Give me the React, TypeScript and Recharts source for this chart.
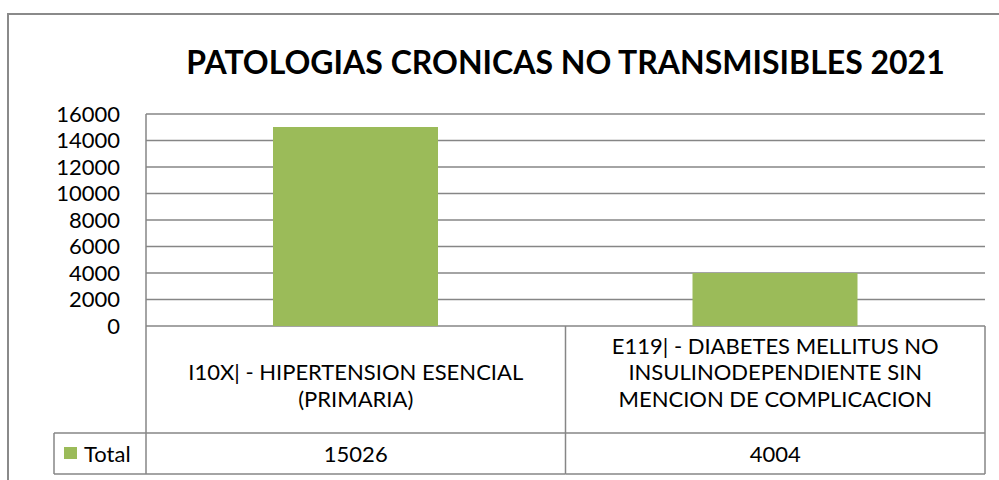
import { BarChart, Bar, XAxis, YAxis, CartesianGrid } from 'recharts';

const categories = [
  'I10X| - HIPERTENSION ESENCIAL (PRIMARIA)',
  'E119| - DIABETES MELLITUS NO INSULINODEPENDIENTE SIN MENCION DE COMPLICACION',
];
const categoryLines = [
  ['I10X| - HIPERTENSION ESENCIAL', '(PRIMARIA)'],
  ['E119| - DIABETES MELLITUS NO', 'INSULINODEPENDIENTE SIN', 'MENCION DE COMPLICACION'],
];
const totals = [15026, 4004];
const yTicks = [0, 2000, 4000, 6000, 8000, 10000, 12000, 14000, 16000];
const seriesName = 'Total';
const title = 'PATOLOGIAS CRONICAS NO TRANSMISIBLES 2021';

const data = categories.map((c, i) => ({ name: c, total: totals[i] }));

const GREEN = '#9bbb59';
const LINE = '#868686';
const FONT = 'Lato, "Open Sans", sans-serif';
const PLOT_LEFT = 146;
const PLOT_RIGHT = 985;
const half = (PLOT_RIGHT - PLOT_LEFT) / categories.length / 2;

function TableTick(props: any) {
  const { x, y, payload } = props;
  const i = payload.index ?? props.index ?? 0;
  const lines = categoryLines[i] || [];
  const left = x - half;
  const right = x + half;
  const lineH = 26.7;
  const lastBase = y + 81;
  return (
    <g>
      {lines.map((t, k) => (
        <text
          key={k}
          x={x}
          y={lastBase - (lines.length - 1 - k) * lineH}
          textAnchor="middle"
          fontSize={22}
          fontFamily={FONT}
          fill="#000"
        >
          {t}
        </text>
      ))}
      <text x={x} y={y + 136} textAnchor="middle" fontSize={22} fontFamily={FONT} fill="#000">
        {totals[i]}
      </text>
      <line x1={left} x2={right} y1={y + 107} y2={y + 107} stroke={LINE} strokeWidth={1.5} />
      <line x1={left} x2={right} y1={y + 148} y2={y + 148} stroke={LINE} strokeWidth={1.5} />
      <line x1={right} x2={right} y1={y} y2={y + 148} stroke={LINE} strokeWidth={1.5} />
      {i === 0 && (
        <g>
          <line x1={left} x2={left} y1={y} y2={y + 148} stroke={LINE} strokeWidth={1.5} />
          <line x1={left - 92} x2={left} y1={y + 107} y2={y + 107} stroke={LINE} strokeWidth={1.5} />
          <line x1={left - 92} x2={left} y1={y + 148} y2={y + 148} stroke={LINE} strokeWidth={1.5} />
          <line x1={left - 92} x2={left - 92} y1={y + 107} y2={y + 148} stroke={LINE} strokeWidth={1.5} />
          <rect x={left - 82} y={y + 121} width={13} height={12} fill={GREEN} />
          <text x={left - 62} y={y + 136} fontSize={22} fontFamily={FONT} fill="#000">
            {seriesName}
          </text>
        </g>
      )}
    </g>
  );
}

export default function App() {
  return (
    <div
      style={{
        position: 'absolute',
        left: 0,
        top: 0,
        width: 999,
        height: 480,
        overflow: 'hidden',
        background: '#fff',
      }}
    >
      <div
        style={{
          position: 'absolute',
          left: 7,
          top: 13,
          width: 1100,
          height: 600,
          border: '2px solid #8a8a8a',
        }}
      />
      <div
        style={{
          position: 'absolute',
          left: PLOT_LEFT,
          width: PLOT_RIGHT - PLOT_LEFT,
          top: 42,
          textAlign: 'center',
          fontFamily: FONT,
          fontWeight: 'bold',
          fontSize: 32,
          lineHeight: '40px',
          color: '#000',
        }}
      >
        {title}
      </div>
      <div style={{ position: 'absolute', left: 0, top: 0 }}>
        <BarChart
          width={999}
          height={480}
          data={data}
          margin={{ top: 114, right: 999 - PLOT_RIGHT, bottom: 0, left: 0 }}
        >
          <CartesianGrid vertical={false} stroke={LINE} strokeWidth={1.5} />
          <XAxis
            dataKey="name"
            interval={0}
            axisLine={false}
            tickLine={false}
            tickSize={0}
            tickMargin={0}
            height={154}
            tick={<TableTick />}
          />
          <YAxis
            width={PLOT_LEFT}
            domain={[0, 16000]}
            ticks={yTicks}
            interval={0}
            tickLine={false}
            tickSize={0}
            tickMargin={26}
            axisLine={{ stroke: LINE, strokeWidth: 1.5 }}
            tick={{ fill: '#000', fontSize: 22, fontFamily: FONT }}
          />
          <Bar dataKey="total" fill={GREEN} barSize={165} isAnimationActive={false} />
        </BarChart>
      </div>
    </div>
  );
}
